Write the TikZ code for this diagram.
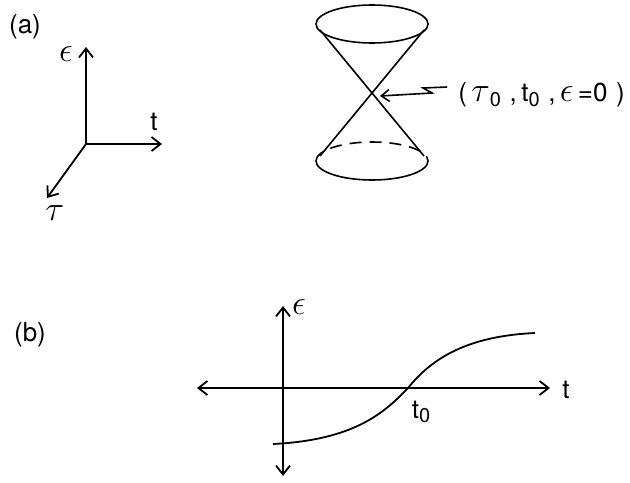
\documentclass[tikz,border=0pt]{standalone}
\usepackage{fontspec}
\setmainfont{TeX Gyre Heros}
\usetikzlibrary{arrows.meta,positioning}

\newcommand{\sub}[1]{\raisebox{-0.35ex}{\fontsize{10}{12}\selectfont #1}}
\newcommand{\grk}[1]{{\fontsize{18}{20}\selectfont$#1$}}

\begin{document}
\begin{tikzpicture}[
    x=0.5pt, y=-0.5pt,
    font=\fontsize{13}{15}\selectfont,
    axis/.style={-{Straight Barb[length=4.5pt,width=7pt]}, line width=0.9pt},
    bothaxis/.style={{Straight Barb[length=4.5pt,width=7pt]}-{Straight Barb[length=4.5pt,width=7pt]}, line width=0.9pt},
    cone/.style={line width=0.8pt},
    lbl/.style={inner sep=0pt}
]
\useasboundingbox (0,0) rectangle (630,482);

% (a) axes
\node[lbl] (tagA) at (25,27) {(a)};
\coordinate (O) at (86,144);
\coordinate (epsA) at (86,47);
\coordinate (tA) at (162,144);
\coordinate (tauA) at (47,198);
\foreach \e in {epsA, tA, tauA}
  \draw[axis] (O) -- (\e);
\node[lbl] (epsLblA) at (66,54) {\grk{\epsilon}};
\node[lbl] (tLblA) at (154,122) {t};
\node[lbl] (tauLblA) at (55,213) {\grk{\tau}};

% (a) double cone
\coordinate (apex) at (372,94);
\draw[cone] (372,24) ellipse [x radius=56, y radius=19];
\draw[cone] (316,161) arc [start angle=180, end angle=0, x radius=56, y radius=19];
\draw[cone, dashed, dash pattern=on 6pt off 4pt] (316,161) arc [start angle=180, end angle=360, x radius=56, y radius=19];
\coordinate (tl) at (320,30);
\coordinate (tr) at (424,30);
\coordinate (bl) at (320,156);
\coordinate (br) at (424,156);
\draw[cone] (tl) -- (br);
\draw[cone] (tr) -- (bl);

% label with zig-zag pointer
\node[lbl, anchor=west] (pt) at (458,95) {(\,\grk{\tau}\sub{0}\,\,,\,t\sub{0}\,\,,\,\grk{\epsilon}\,=0\,\,)};
\coordinate (z1) at (447,87);
\coordinate (z2) at (423,88);
\coordinate (z3) at (432,93);
\draw[-{Straight Barb[length=4pt,width=6pt]}, line width=0.8pt] (z1) -- (z2) -- (z3) -- (380,96);

% (b) axes and curve
\node[lbl] (tagB) at (30,335) {(b)};
\coordinate (bl0) at (197,388);
\coordinate (br0) at (550,388);
\coordinate (bt0) at (283,306);
\coordinate (bb0) at (283,476);
\draw[bothaxis] (bl0) -- (br0);
\draw[bothaxis] (bb0) -- (bt0);
\node[lbl] (epsLblB) at (299,307) {\grk{\epsilon}};
\node[lbl] (tLblB) at (566,390) {t};
\node[lbl] (t0Lbl) at (421,412) {t\sub{0}};
\coordinate (c0) at (273,444);
\coordinate (cz) at (408,388);
\coordinate (c1) at (535,333);
\draw[line width=0.9pt] (c0) .. controls (355,440) and (385,412) .. (cz)
  .. controls (432,358) and (468,336) .. (c1);
\end{tikzpicture}
\end{document}
